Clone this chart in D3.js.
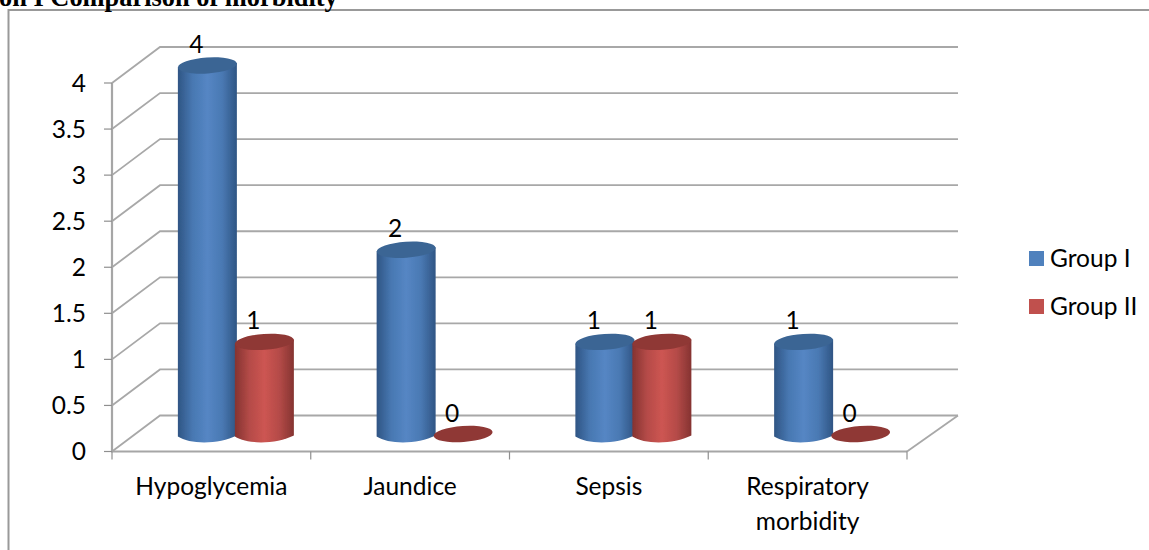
<!DOCTYPE html>
<html><head><meta http-equiv="Content-Type" content="text/html; charset=UTF-8">
<style>
html, body { margin: 0; padding: 0; background: #fff; overflow: hidden; }
svg { display: block; }
text { font-family: Lato, "Open Sans", sans-serif; fill: #000; }
.grid { fill: none; stroke: #a8a8a8; stroke-width: 1.8px; }
.axis-line { fill: none; stroke: #a6a6a6; stroke-width: 2.2px; }
.tick-mark { stroke: #8f8f8f; stroke-width: 1.2px; }
</style>
</head>
<body>
<svg width="1149" height="550"></svg>
<script src="https://cdn.jsdelivr.net/npm/d3@7"></script>
<script>

var categories = ["Hypoglycemia", "Jaundice", "Sepsis", "Respiratory morbidity"];
var seriesNames = ["Group I", "Group II"];
var groupOne = [4, 2, 1, 1];
var groupTwo = [1, 0, 1, 0];
var yTicks = [0, 0.5, 1, 1.5, 2, 2.5, 3, 3.5, 4];
var colors = { side: ["#2f5584", "#4878b2", "#5586c4", "#4a79b3", "#2f5584"], top: "#3b6594", legend: "#4f81bd" };
var colorsRed = { side: ["#853331", "#b54b48", "#cd5552", "#b54b48", "#853331"], top: "#8f3735", legend: "#c0504d" };

var svg = d3.select("svg"),
    defs = svg.append("defs"),
    depth = { x: 48, y: -36 };

var x = d3.scaleBand().domain(categories).range([112, 907]);
var inner = d3.scaleBand().domain(seriesNames).range([-56.5, 57.5]);
var y = d3.scaleLinear().domain([0, 4]).range([451.5, 83]);

[colors, colorsRed].forEach(function(c, i) {
  var grad = defs.append("linearGradient").attr("id", "side" + i);
  c.side.forEach(function(col, j) {
    grad.append("stop").attr("offset", (j / (c.side.length - 1) * 100) + "%").attr("stop-color", col);
  });
});

// the source picture is a soft upscale
defs.append("filter").attr("id", "soft")
    .attr("x", "-5%").attr("y", "-5%").attr("width", "110%").attr("height", "110%")
    .append("feGaussianBlur").attr("stdDeviation", 0.5);

// frame
svg.append("rect").attr("x", 8.5).attr("y", 10).attr("width", 1200).attr("height", 600)
    .attr("fill", "#fff").attr("stroke", "#999").attr("stroke-width", 2);

svg.append("text").attr("x", -1).attr("y", 6)
    .style("font", "bold 26.4px 'Liberation Serif', serif")
    .text("on I Comparison of morbidity");

var g = svg.append("g").attr("filter", "url(#soft)");
var labels = svg.append("g");

g.selectAll(".grid").data(yTicks).enter().append("path")
    .attr("class", "grid")
    .attr("d", function(d) {
      return "M" + x.range()[0] + "," + y(d) +
             "L" + (x.range()[0] + depth.x) + "," + (y(d) + depth.y) +
             "H" + (x.range()[1] + depth.x + 3);
    });

// floor right edge
g.append("path").attr("class", "grid")
    .attr("d", "M" + x.range()[1] + "," + y(0) + "L" + (x.range()[1] + depth.x + 3) + "," + (y(0) + depth.y));

// front axes
g.append("path").attr("class", "axis-line")
    .attr("d", "M" + x.range()[0] + "," + y(4) + "V" + y(0) + "H" + x.range()[1]);

g.selectAll(".ytick").data(yTicks).enter().append("line")
    .attr("class", "tick-mark")
    .attr("x1", x.range()[0] - 8).attr("x2", x.range()[0])
    .attr("y1", function(d) { return y(d); }).attr("y2", function(d) { return y(d); });

g.selectAll(".xtick").data(categories.concat(["end"])).enter().append("line")
    .attr("class", "tick-mark")
    .attr("x1", function(d, i) { return x.range()[0] + i * x.bandwidth(); })
    .attr("x2", function(d, i) { return x.range()[0] + i * x.bandwidth(); })
    .attr("y1", y(0)).attr("y2", y(0) + 8);

labels.selectAll(".ylab").data(yTicks).enter().append("text")
    .attr("x", x.range()[0] - 26).attr("y", function(d) { return y(d); })
    .attr("dy", "0.36em").attr("text-anchor", "end")
    .style("font-size", "24.5px")
    .text(function(d) { return d; });

// x labels, wrapped on the space for the long one
var catLabels = labels.selectAll(".xlab").data(categories).enter().append("text")
    .attr("class", "xlab")
    .attr("text-anchor", "middle")
    .style("font-size", "24.5px");
catLabels.each(function(d) {
  var t = d3.select(this), cx = x(d) + x.bandwidth() / 2,
      parts = d.length > 14 ? d.split(" ") : [d];
  parts.forEach(function(p, i) {
    t.append("tspan").attr("x", cx).attr("y", 495 + i * 35).text(p);
  });
});

// cylinders
var rx = 29.5, ry = 8, tilt = -4;
var series = [groupOne, groupTwo];
var barsG = g.append("g");

function centre(cat, s) {
  return x(cat) + x.bandwidth() / 2 + inner(seriesNames[s]) + inner.bandwidth() / 2 + depth.x / 2;
}

function cylinder(cat, s, v) {
  var cx = centre(cat, s),
      yb = y(0) + depth.y / 2,
      yt = y(v) + depth.y / 2,
      c = s === 0 ? colors : colorsRed,
      cg = barsG.append("g");
  if (v > 0) {
    cg.append("path")
      .attr("d", "M" + (cx - rx) + "," + (yt + 2) + "V" + (yb + 3) +
                 "C" + (cx - rx + 12) + "," + (yb + 11) + " " + (cx + rx - 18) + "," + (yb + 11) + " " + (cx + rx) + "," + (yb + 2) +
                 "V" + (yt - 2) + "Z")
      .attr("fill", "url(#side" + s + ")");
  }
  cg.append("ellipse")
    .attr("cx", cx).attr("cy", yt + 0.5).attr("rx", rx).attr("ry", ry)
    .attr("transform", "rotate(" + tilt + " " + cx + " " + yt + ")")
    .attr("fill", c.top);
}

categories.forEach(function(cat, i) {
  series.forEach(function(vals, s) { cylinder(cat, s, vals[i]); });
});

// value labels
categories.forEach(function(cat, i) {
  series.forEach(function(vals, s) {
    labels.append("text")
      .attr("x", centre(cat, s) - 11).attr("y", y(vals[i]) + depth.y / 2 - 12)
      .attr("text-anchor", "middle")
      .style("font-size", "24.5px")
      .text(vals[i]);
  });
});

// legend
var leg = svg.append("g").selectAll("g").data(seriesNames).enter().append("g")
    .attr("transform", function(d, i) { return "translate(1029," + (251 + i * 48) + ")"; });
leg.append("rect").attr("width", 15).attr("height", 15)
    .attr("fill", function(d, i) { return i === 0 ? colors.legend : colorsRed.legend; });
leg.append("text").attr("x", 21).attr("y", 7.5).attr("dy", "0.36em")
    .style("font-size", "24.5px")
    .text(function(d) { return d; });

</script>
</body></html>
